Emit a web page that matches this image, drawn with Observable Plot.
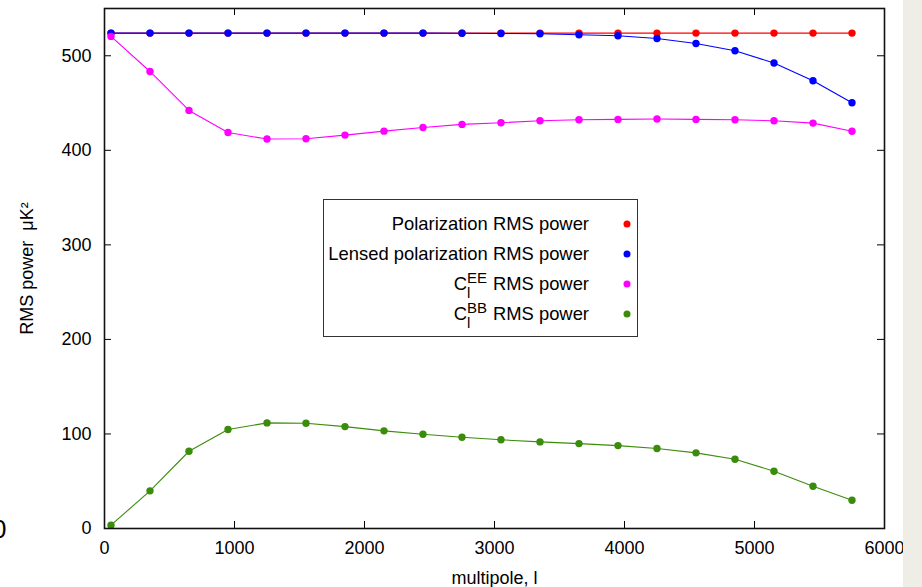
<!DOCTYPE html>
<html>
<head>
<meta charset="utf-8">
<script src="https://cdn.jsdelivr.net/npm/d3@7"></script>
<script src="https://cdn.jsdelivr.net/npm/@observablehq/plot@0.6"></script>
<style>
  html, body { margin: 0; padding: 0; background: #fff; }
  body { width: 922px; height: 587px; position: relative; overflow: hidden; font-family: "Liberation Sans", Arial, sans-serif; }
  #chart { position: absolute; left: 0; top: 0; }
  #sidebar { position: absolute; left: 903px; top: 0; width: 19px; height: 587px; background: #eeede6; }
  #stray { position: absolute; left: -8px; top: 514px; font-size: 26px; color: #000; }
  #legend { position: absolute; left: 323px; top: 199px; width: 313px; height: 136px; border: 1.5px solid #333; background: #fff; }
  .row { position: absolute; right: 0; width: 100%; height: 30px; font-size: 18.4px; color: #000; }
  .row .lab { position: absolute; right: 48px; top: 50%; transform: translateY(-50%); white-space: nowrap; }
  .row .dot { position: absolute; left: 303px; top: 50%; width: 7px; height: 7px; border-radius: 50%; transform: translate(-50%, -50%); }
  .cl { position: relative; display: inline-block; margin-right: 26px; }
  .cl .sup { position: absolute; left: 100%; top: -1px; font-size: 15px; line-height: 11px; margin-left: 0px; }
  .cl .sub { position: absolute; left: 100%; bottom: -3px; font-size: 15px; line-height: 11px; margin-left: 0px; }
</style>
</head>
<body>
<div id="chart"></div>
<div id="sidebar"></div>
<div id="stray">0</div>
<div id="legend"></div>
<script>
// multipole values
const ell = [50, 350, 650, 950, 1250, 1550, 1850, 2150, 2450, 2750, 3050, 3350, 3650, 3950, 4250, 4550, 4850, 5150, 5450, 5750];
// series (µK^2)
const polarization = [524, 524, 524, 524, 524, 524, 524, 524, 524, 524, 524, 524, 524, 524, 524, 524, 524, 524, 524, 524];
const lensed = [524, 524, 524, 524, 524, 524, 524, 524, 524, 523.9, 523.6, 523.3, 522.2, 521.1, 518.3, 513, 505.3, 492.3, 473.6, 450.3];
const clEE = [520.5, 483.4, 442.2, 418.9, 411.9, 412.3, 416.1, 420.3, 424.2, 427.4, 429.2, 431.3, 432.3, 432.7, 433.1, 432.7, 432.3, 431.3, 428.8, 420.2];
const clBB = [3.5, 39.8, 81.7, 104.7, 111.7, 111.3, 107.8, 103.3, 99.7, 96.5, 93.8, 91.6, 89.8, 87.7, 84.6, 80.0, 73.3, 60.6, 44.7, 29.9];

const seriesNames = ["Polarization RMS power", "Lensed polarization RMS power", "C_l^EE RMS power", "C_l^BB RMS power"];
const seriesColors = ["#ff0000", "#0000ff", "#ff00ff", "#3c8c0c"];
const seriesValues = [polarization, lensed, clEE, clBB];

const xTicks = [0, 1000, 2000, 3000, 4000, 5000, 6000];
const yTicks = [0, 100, 200, 300, 400, 500];

const data = [];
seriesValues.forEach((vals, s) => {
  vals.forEach((v, i) => data.push({series: seriesNames[s], ell: ell[i], value: v}));
});

const W = 922, H = 587;
const mL = 104, mR = 38, mT = 8, mB = 59;
const innerH = H - mT - mB;
const innerW = W - mL - mR;
const tickLen = 7;

const plot = Plot.plot({
  width: W,
  height: H,
  marginLeft: mL,
  marginRight: mR,
  marginTop: mT,
  marginBottom: mB,
  style: {fontFamily: "'Liberation Sans', Arial, sans-serif", fontSize: "18px", background: "transparent", color: "#000"},
  x: {domain: [0, 6000]},
  y: {domain: [0, 550]},
  color: {domain: seriesNames, range: seriesColors},
  marks: [
    Plot.line(data, {x: "ell", y: "value", z: "series", stroke: "series", strokeWidth: 1.1}),
    Plot.dot(data, {x: "ell", y: "value", fill: "series", r: 3.7, stroke: "none"}),
    // inward ticks on all four sides
    Plot.ruleX(xTicks, {x: d => d, insetTop: innerH - tickLen, stroke: "#000", strokeWidth: 1}),
    Plot.ruleX(xTicks, {x: d => d, insetBottom: innerH - tickLen, stroke: "#000", strokeWidth: 1}),
    Plot.ruleY(yTicks, {y: d => d, insetRight: innerW - tickLen, stroke: "#000", strokeWidth: 1}),
    Plot.ruleY(yTicks, {y: d => d, insetLeft: innerW - tickLen, stroke: "#000", strokeWidth: 1}),
    Plot.axisX(xTicks, {tickSize: 0, tickPadding: 13, tickFormat: d => String(d), fontSize: 18, label: "multipole, l", labelAnchor: "center", labelOffset: 55, labelArrow: "none"}),
    Plot.axisY(yTicks, {tickSize: 0, tickPadding: 13, tickFormat: d => String(d), fontSize: 18, label: "RMS power  \u03bcK\u00b2", labelAnchor: "center", labelOffset: 84, labelArrow: "none"}),
    Plot.frame({stroke: "#111", strokeWidth: 1.6})
  ]
});
document.getElementById("chart").appendChild(plot);

// legend (HTML, with sub/superscripts)
const legend = document.getElementById("legend");
const labelsHtml = [
  "Polarization RMS power",
  "Lensed polarization RMS power",
  "<span class=\"cl\">C<span class=\"sup\">EE</span><span class=\"sub\">l</span></span>RMS power",
  "<span class=\"cl\">C<span class=\"sup\">BB</span><span class=\"sub\">l</span></span>RMS power"
];
const rowCenters = [24, 54, 84, 114];
labelsHtml.forEach((h, i) => {
  const row = document.createElement("div");
  row.className = "row";
  row.style.top = (rowCenters[i] - 15) + "px";
  row.innerHTML = `<span class="lab">${h}</span><span class="dot" style="background:${seriesColors[i]}"></span>`;
  legend.appendChild(row);
});
</script>
</body>
</html>
